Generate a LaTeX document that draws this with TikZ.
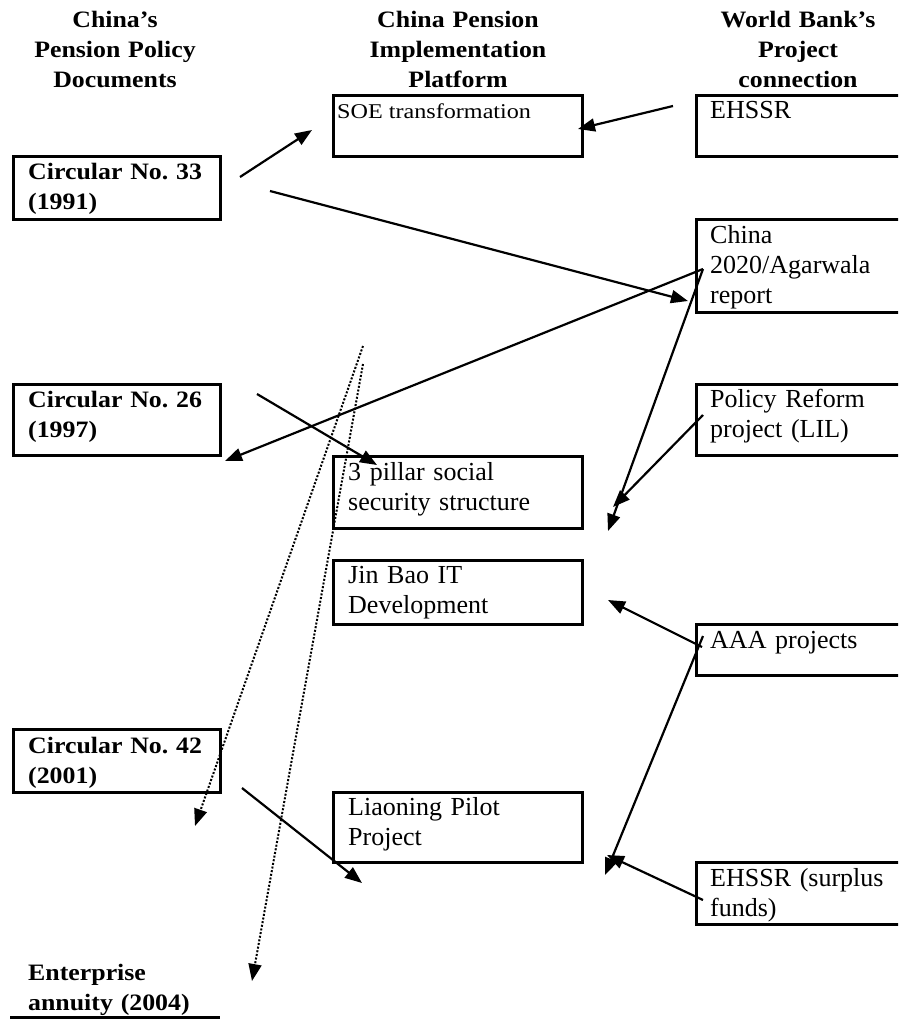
\documentclass[tikz,border=0pt]{standalone}
\usepackage{fontspec}
\setmainfont{Liberation Serif}
\newfontfamily\hdfont{Liberation Serif}[FakeStretch=1.1]
\newfontfamily\soefont{Liberation Serif}[FakeStretch=1.15]
\usetikzlibrary{arrows.meta}

\begin{document}
\frenchspacing
\begin{tikzpicture}[x=1pt, y=-1pt,
	box/.style={draw, line width=3pt, anchor=north west, inner sep=0pt},
	txt/.style={anchor=base west, inner sep=0pt, text width=260pt, align=left, font=\fontsize{26}{30}\selectfont},
	btxt/.style={txt, font=\hdfont\bfseries\fontsize{23.5}{30}\selectfont},
	head/.style={anchor=base, inner sep=0pt, text width=260pt, align=center, font=\hdfont\bfseries\fontsize{23.5}{30}\selectfont},
	arr/.style={-{Triangle[length=17pt,width=13pt]}, line width=2.2pt},
	dotarr/.style={arr, line width=2pt, dash pattern=on 2pt off 1.7pt}]
	\clip (0,0) rectangle (898,1020);

	% column headings
	\node[head] (hdoc) at (115,27) {China’s\\Pension Policy\\Documents};
	\node[head] (hplat) at (458,27) {China Pension\\Implementation\\Platform};
	\node[head] (hbank) at (798,27) {World Bank’s\\Project\\connection};

	% policy documents
	\node[box, minimum width=207pt, minimum height=63pt] (c33) at (12,155) {};
	\node[box, minimum width=207pt, minimum height=71pt] (c26) at (12,383) {};
	\node[box, minimum width=207pt, minimum height=63pt] (c42) at (12,728) {};
	\node[btxt] (t33) at (28,179) {Circular No. 33\\(1991)};
	\node[btxt] (t26) at (28,407) {Circular No. 26\\(1997)};
	\node[btxt] (t42) at (28,753) {Circular No. 42\\(2001)};
	\node[btxt] (tent) at (28,980) {Enterprise\\annuity (2004)};
	\draw[line width=3pt] (10,1017) -- (220,1017);

	% implementation platform
	\node[box, minimum width=249pt, minimum height=61pt] (soe) at (332,94) {};
	\node[box, minimum width=249pt, minimum height=72pt] (pillar) at (332,455) {};
	\node[box, minimum width=249pt, minimum height=64pt] (jinbao) at (332,559) {};
	\node[box, minimum width=249pt, minimum height=70pt] (liao) at (332,791) {};
	\node[anchor=base west, inner sep=0pt, font=\soefont\fontsize{21}{24}\selectfont] (tsoe) at (337,118) {SOE transformation};
	\node[txt] (tpillar) at (348,480) {3 pillar social\\security structure};
	\node[txt] (tjin) at (348,583) {Jin Bao IT\\Development};
	\node[txt] (tliao) at (348,815) {Liaoning Pilot\\Project};

	% world bank projects
	\node[box, minimum width=215pt, minimum height=61pt] (ehssr) at (695,94) {};
	\node[box, minimum width=215pt, minimum height=93pt] (agar) at (695,218) {};
	\node[box, minimum width=215pt, minimum height=71pt] (lil) at (695,383) {};
	\node[box, minimum width=215pt, minimum height=51pt] (aaa) at (695,623) {};
	\node[box, minimum width=215pt, minimum height=62pt] (surplus) at (695,861) {};
	\node[txt] (tehssr) at (710,118) {EHSSR};
	\node[txt] (tagar) at (710,243) {China\\2020/Agarwala\\report};
	\node[txt] (tlil) at (710,407) {Policy Reform\\project (LIL)};
	\node[txt] (taaa) at (710,648) {AAA projects};
	\node[txt] (tsurplus) at (710,886) {EHSSR (surplus\\funds)};

	% arrow ends
	\coordinate (s33a) at (240,177);
	\coordinate (e33a) at (312,130);
	\coordinate (s33b) at (270,191);
	\coordinate (e33b) at (688,301);
	\coordinate (sehssr) at (673,106);
	\coordinate (eehssr) at (578,129);
	\coordinate (sagar) at (703,269);
	\coordinate (eagar26) at (225,461);
	\coordinate (eagarlow) at (608,531);
	\coordinate (slil) at (703,415);
	\coordinate (elil) at (613,507);
	\coordinate (s26) at (257,394);
	\coordinate (e26) at (377,465);
	\coordinate (saaa) at (702,647);
	\coordinate (eaaajin) at (608,600);
	\coordinate (saaalow) at (703,636);
	\coordinate (eaaalow) at (605,875);
	\coordinate (ssur) at (703,900);
	\coordinate (esur) at (607,855);
	\coordinate (s42) at (242,788);
	\coordinate (e42) at (362,883);
	\coordinate (sdota) at (363,346);
	\coordinate (edota) at (195,826);
	\coordinate (sdotb) at (363,364);
	\coordinate (edotb) at (252,981);

	\draw[arr] (s33a) -- (e33a);
	\draw[arr] (s33b) -- (e33b);
	\draw[arr] (sehssr) -- (eehssr);
	\draw[arr] (sagar) -- (eagar26);
	\draw[arr] (sagar) -- (eagarlow);
	\draw[arr] (slil) -- (elil);
	\draw[arr] (s26) -- (e26);
	\draw[arr] (saaa) -- (eaaajin);
	\draw[arr] (saaalow) -- (eaaalow);
	\draw[arr] (ssur) -- (esur);
	\draw[arr] (s42) -- (e42);
	\draw[dotarr] (sdota) -- (edota);
	\draw[dotarr] (sdotb) -- (edotb);
\end{tikzpicture}
\end{document}
